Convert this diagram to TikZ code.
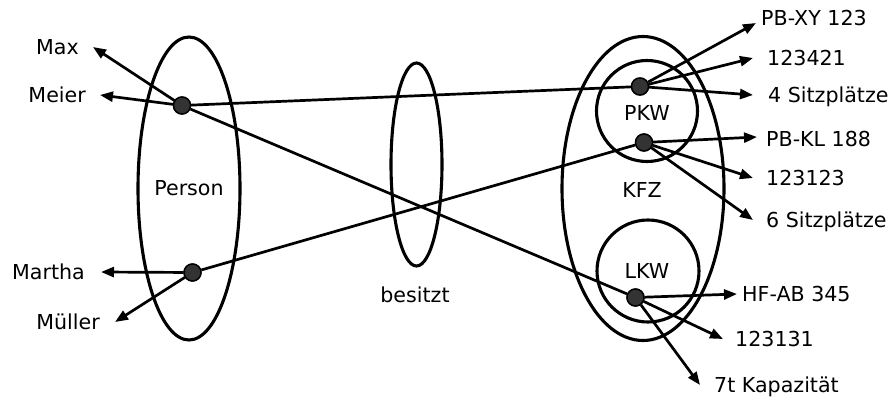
\documentclass[tikz,border=0pt]{standalone}
\usepackage{fontspec}
\setmainfont{DejaVu Sans}
\usetikzlibrary{shapes.geometric,arrows.meta}
\begin{document}
\begin{tikzpicture}[x=1pt,y=-1pt,
 setshape/.style={draw,ellipse,line width=3.1pt,inner sep=0pt},
 circshape/.style={draw,circle,line width=3.1pt,inner sep=0pt},
 dotnode/.style={circle,draw=black,fill=black!80,line width=1.4pt,minimum size=17pt,inner sep=0pt},
 txt/.style={font=\fontsize{20.6}{24}\selectfont,text height=15pt,text depth=0pt,inner sep=0pt},
 rl/.style={txt,anchor=west},
 ll/.style={txt,anchor=east},
 conn/.style={line width=2.7pt},
 arr/.style={conn,-{Triangle[length=13pt,width=10pt]}}
]
\useasboundingbox (0,0) rectangle (894,399);
% sets
\node[setshape,minimum width=102pt,minimum height=303pt] (person) at (189,188.5) {};
\node[setshape,minimum width=51pt,minimum height=203pt] (besitzt) at (416.5,164.5) {};
\node[setshape,minimum width=162pt,minimum height=304pt] (kfz) at (643,188.5) {};
\node[circshape,minimum size=101pt] (pkw) at (647,111) {};
\node[circshape,minimum size=102pt] (lkw) at (648,271) {};
% set labels
\node[txt] (tperson) at (189,188) {Person};
\node[txt] (tbesitzt) at (415,295) {besitzt};
\node[txt] (tkfz) at (642,190) {KFZ};
\node[txt] (tpkw) at (647,113) {PKW};
\node[txt] (tlkw) at (647,271) {LKW};
% element labels
\node[ll,inner xsep=14pt] (max) at (93,47) {Max};
\node[ll,inner xsep=14pt] (meier) at (100,95) {Meier};
\node[ll,inner xsep=16pt] (martha) at (101,272) {Martha};
\node[ll,inner xsep=15pt] (mueller) at (115,322) {Müller};
\node[rl,inner xsep=5pt] (pbxy) at (756,18) {PB-XY 123};
\node[rl,inner xsep=14pt] (nA) at (753,58) {123421};
\node[rl,inner xsep=15pt] (sitzA) at (753,95) {4 Sitzplätze};
\node[rl,inner xsep=9pt] (pbkl) at (757,139) {PB-KL 188};
\node[rl,inner xsep=13pt] (nB) at (753,178) {123123};
\node[rl,inner xsep=13pt] (sitzB) at (753,220) {6 Sitzplätze};
\node[rl,inner xsep=5pt] (hfab) at (737,294) {HF-AB 345};
\node[rl,inner xsep=12pt] (nC) at (723,339) {123131};
\node[rl,inner xsep=14pt] (kap) at (700,385) {7t Kapazität};
% dots
\node[dotnode] (dmeier) at (182,105.5) {};
\node[dotnode] (dmartha) at (192.5,272.5) {};
\node[dotnode] (dpkwA) at (640,86.5) {};
\node[dotnode] (dpkwB) at (644,142.5) {};
\node[dotnode] (dlkw) at (635.5,297.5) {};
% relation lines
\draw[conn] (dmeier) -- (dpkwA);
\draw[conn] (dmeier) -- (dlkw);
\draw[conn] (dmartha) -- (dpkwB);
% attribute arrows
\draw[arr] (dmeier) -- (max.east);
\draw[arr] (dmeier) -- (meier.east);
\draw[arr] (dmartha) -- (martha.east);
\draw[arr] (dmartha) -- (mueller.east);
\draw[arr] (dpkwA) -- ([yshift=-5pt]pbxy.west);
\draw[arr] (dpkwA) -- (nA.west);
\draw[arr] (dpkwA) -- (sitzA.west);
\draw[arr] (dpkwB) -- ([yshift=2pt]pbkl.west);
\draw[arr] (dpkwB) -- (nB.west);
\draw[arr] (dpkwB) -- (sitzB.west);
\draw[arr] (dlkw) -- (hfab.west);
\draw[arr] (dlkw) -- (nC.west);
\draw[arr] (dlkw) -- (kap.west);
% redraw dots on top
\node[dotnode] at (dmeier) {};
\node[dotnode] at (dmartha) {};
\node[dotnode] at (dpkwA) {};
\node[dotnode] at (dpkwB) {};
\node[dotnode] at (dlkw) {};
\end{tikzpicture}
\end{document}
